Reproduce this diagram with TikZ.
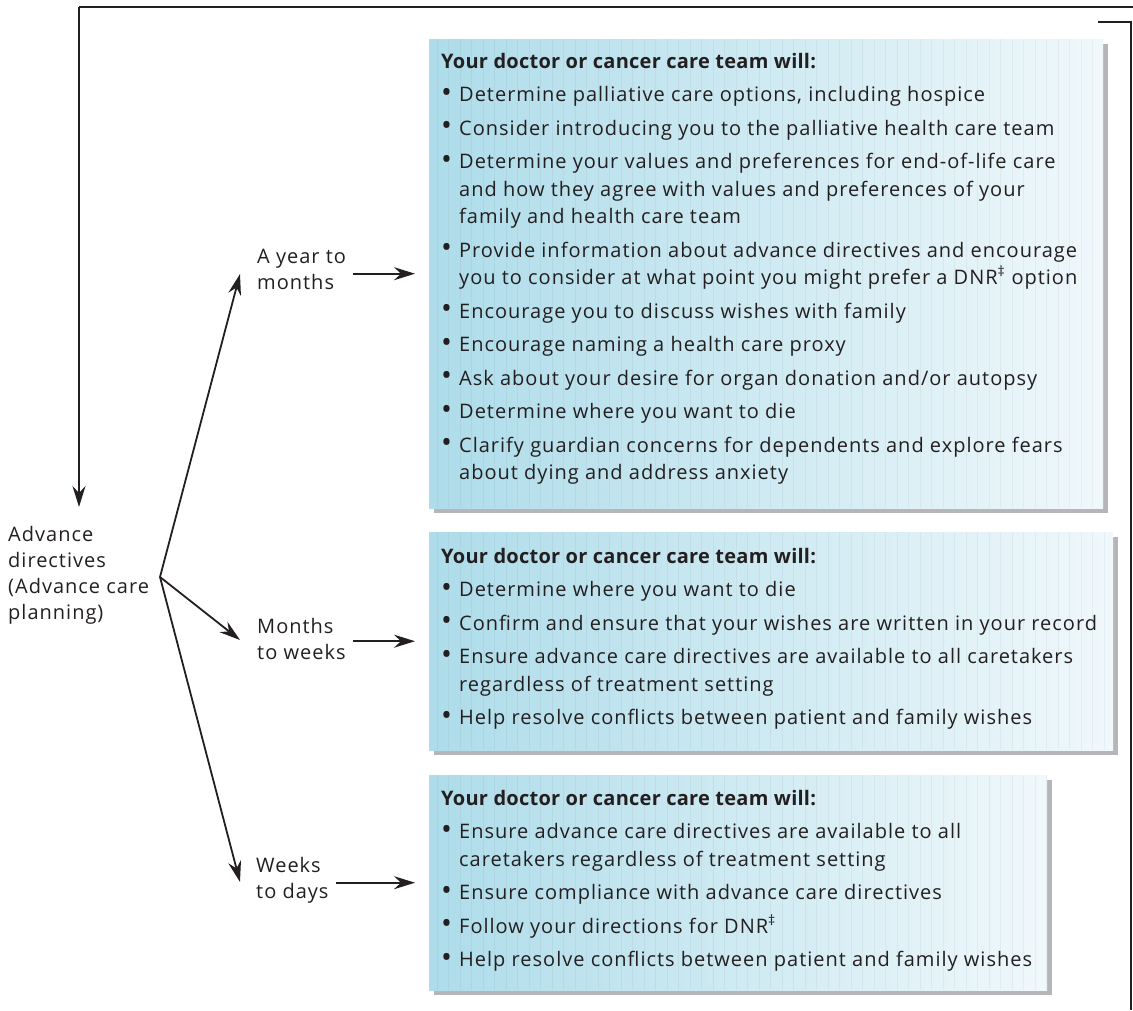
\documentclass[tikz,border=0pt]{standalone}
\usepackage{fontspec}
\setmainfont{Open Sans}[LetterSpace=5.0, BoldFeatures={LetterSpace=1.3}]
\usetikzlibrary{arrows.meta,calc,shadows}

\definecolor{ink}{HTML}{231F20}
\definecolor{panelL}{HTML}{AEDCEA}
\definecolor{panelR}{HTML}{F0F8FB}
\definecolor{panelshadow}{HTML}{B6B6BA}

% one bullet item with a hanging indent
\newcommand\pbullet{\raisebox{-0.6pt}{\scalebox{1.45}{\textbullet}}}
\newcommand\pitem[1]{\par\hangindent=18pt\hangafter=1\noindent\makebox[18pt][l]{\pbullet}#1}
% text block of a panel: heading line followed by bullet items
\newcommand\paneltext[1]{\parbox[t]{700pt}{\fontsize{20}{27.5}\selectfont\raggedright\parskip=6pt\relax
  \noindent\textbf{Your doctor or cancer care team will:}#1}}
% stacked label lines
\newcommand\stack[1]{{\fontsize{20}{26}\selectfont\begin{tabular}[t]{@{}l@{}}#1\end{tabular}}}

\tikzset{
  panel/.style={draw=none, anchor=north west, inner sep=0pt,
    left color=panelL, right color=panelR,
    drop shadow={shadow xshift=5pt, shadow yshift=-5pt, opacity=1, fill=panelshadow},
    path picture={
      \foreach \i in {0,11.5,...,700}
        \draw[black, opacity=.04, line width=.8pt]
          ($(path picture bounding box.north west)+(\i+8,0)$) --
          ($(path picture bounding box.south west)+(\i+8,0)$);
    }},
  ptext/.style={anchor=base west, inner sep=0pt, text=ink},
  lab/.style={anchor=base west, inner sep=0pt, text=ink},
  conn/.style={draw=ink, line width=1.8pt,
    -{Stealth[length=21pt, width=13pt, inset=7pt]}},
  frame/.style={draw=ink, line width=2pt},
}

\begin{document}
\begin{tikzpicture}[x=1pt, y=-1pt]
\useasboundingbox (0,0) rectangle (1133,1010);

% panels
\node[panel, minimum width=674pt, minimum height=469pt] (b1) at (429,39) {};
\node[panel, minimum width=684pt, minimum height=218pt] (b2) at (429,532) {};
\node[panel, minimum width=618pt, minimum height=215pt] (b3) at (429,775) {};

\node[ptext] (t1) at (441,68) {\paneltext{%
  \pitem{Determine palliative care options, including hospice}
  \pitem{Consider introducing you to the palliative health care team}
  \pitem{Determine your values and preferences for end-of-life care\newline
         and how they agree with values and preferences of your\newline
         family and health care team}
  \pitem{Provide information about advance directives and encourage\newline
         you to consider at what point you might prefer a DNR\textsuperscript{‡} option}
  \pitem{Encourage you to discuss wishes with family}
  \pitem{Encourage naming a health care proxy}
  \pitem{Ask about your desire for organ donation and/or autopsy}
  \pitem{Determine where you want to die}
  \pitem{Clarify guardian concerns for dependents and explore fears\newline
         about dying and address anxiety}}};

\node[ptext] (t2) at (441,563) {\paneltext{%
  \pitem{Determine where you want to die}
  \pitem{Confirm and ensure that your wishes are written in your record}
  \pitem{Ensure advance care directives are available to all caretakers\newline
         regardless of treatment setting}
  \pitem{Help resolve conflicts between patient and family wishes}}};

\node[ptext] (t3) at (441,805) {\paneltext{%
  \pitem{Ensure advance care directives are available to all\newline
         caretakers regardless of treatment setting}
  \pitem{Ensure compliance with advance care directives}
  \pitem{Follow your directions for DNR\textsuperscript{‡}}
  \pitem{Help resolve conflicts between patient and family wishes}}};

% stage labels
\node[lab] (l1) at (257,263) {\stack{A year to\\months}};
\node[lab] (l2) at (257,633) {\stack{Months\\to weeks}};
\node[lab] (l3) at (256,872) {\stack{Weeks\\to days}};
\node[lab] (ad) at (8,541) {\stack{Advance\\directives\\(Advance care\\planning)}};

% stage label to panel
\draw[conn, shorten <=7pt, shorten >=14pt] (b1.west -| l1.east) -- (b1.west);
\draw[conn, shorten <=7pt, shorten >=14pt] (b2.west -| l2.east) -- (b2.west);
\draw[conn, shorten <=7pt, shorten >=14pt] (b3.west -| l3.east) -- (b3.west);

% fan from the advance directives label
\coordinate (fan) at (160,577);
\coordinate (f1) at (240,274);
\coordinate (f2) at (240,640);
\coordinate (f3) at (240,882);
\draw[conn] (fan) -- (f1);
\draw[conn] (fan) -- (f2);
\draw[conn] (fan) -- (f3);

% return line along the top
\coordinate (topR) at (1133,7);
\coordinate (topL) at (79,7);
\coordinate (adIn) at (79,507);
\draw[frame] (topR) -- (topL);
\draw[conn, line width=2pt] (topL) -- (adIn);

% bracket on the right
\coordinate (rb0) at (1098,22);
\coordinate (rb1) at (1131,22);
\coordinate (rb2) at (1131,1010);
\draw[frame] (rb0) -- (rb1) -- (rb2);
\end{tikzpicture}
\end{document}
